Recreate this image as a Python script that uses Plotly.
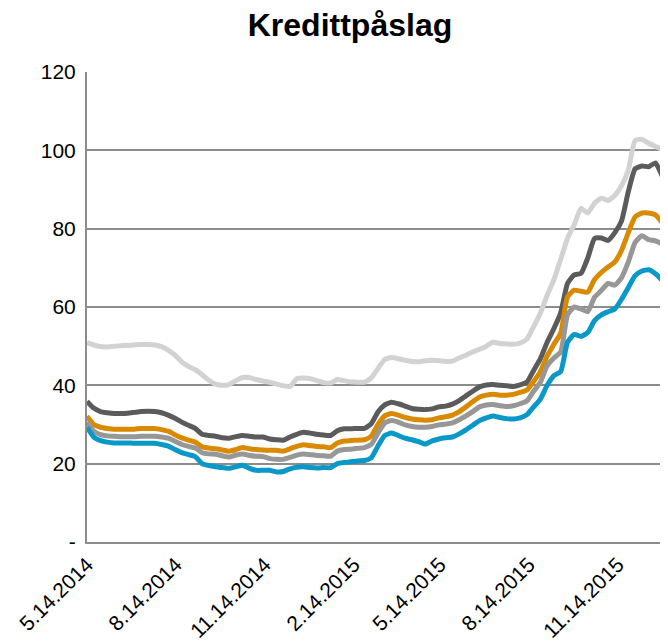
import pandas as pd
import plotly.graph_objects as go

start_date = "2014-05-14"
n_weeks = 87
dates = pd.date_range(start_date, periods=n_weeks, freq="7D")

light_gray = [50.9, 50.3, 49.9, 49.8, 50.0, 50.1, 50.2, 50.3, 50.4, 50.4,
              50.3, 49.9, 49.0, 47.7, 46.0, 44.8, 44.0, 42.7, 41.3, 40.3,
              40.0, 40.2, 41.2, 42.0, 42.0, 41.5, 41.1, 40.8, 40.3, 39.9,
              39.7, 41.7, 41.9, 41.7, 41.2, 40.7, 40.6, 41.5, 41.2, 40.9,
              40.8, 40.8, 41.9, 44.3, 46.6, 47.1, 46.8, 46.4, 46.1, 46.0,
              46.3, 46.4, 46.3, 46.1, 46.2, 47.0, 47.7, 48.5, 49.2, 50.0,
              51.0, 50.7, 50.6, 50.5, 50.8, 51.8, 55.0, 58.5, 63.0, 67.0,
              72.2, 77.5, 81.0, 85.2, 84.0, 86.5, 87.8, 87.2, 88.5, 91.0,
              95.0, 102.5, 102.8, 101.8, 101.0, 100.2, 98.8]

dark_gray = [35.9, 34.2, 33.3, 33.0, 32.8, 32.8, 32.9, 33.1, 33.3, 33.4,
             33.3, 33.0, 32.4, 31.6, 30.6, 29.8, 29.0, 27.5, 27.2, 27.0,
             26.6, 26.5, 26.9, 27.2, 27.0, 26.8, 26.8, 26.3, 26.1, 26.0,
             26.8, 27.5, 28.0, 27.8, 27.5, 27.3, 27.2, 28.4, 28.9, 28.9,
             29.0, 29.0, 30.2, 33.2, 35.0, 35.7, 35.3, 34.7, 34.1, 33.9,
             33.8, 34.0, 34.5, 34.7, 35.2, 36.1, 37.3, 38.5, 39.6, 40.1,
             40.2, 40.0, 39.9, 39.7, 40.1, 40.8, 43.8, 46.8, 51.0, 54.5,
             58.5, 66.0, 68.2, 68.6, 72.5, 77.5, 77.6, 77.0, 79.0, 82.0,
             89.5, 95.3, 96.0, 95.8, 96.8, 93.5, 90.0]

orange = [32.1, 30.0, 29.3, 29.0, 28.8, 28.8, 28.8, 28.8, 29.0, 29.0,
          29.0, 28.7, 28.3, 27.4, 26.6, 26.0, 25.5, 24.3, 24.0, 23.8,
          23.5, 23.2, 23.6, 24.1, 23.8, 23.6, 23.5, 23.4, 23.4, 23.2,
          23.8, 24.4, 24.8, 24.6, 24.4, 24.3, 24.1, 25.3, 25.8, 25.9,
          26.0, 26.1, 27.0, 30.0, 32.2, 32.8, 32.4, 31.8, 31.4, 31.2,
          31.1, 31.2, 31.7, 32.0, 32.4, 33.3, 34.5, 35.8, 37.0, 37.5,
          37.7, 37.5, 37.5, 37.7, 38.2, 38.8, 41.0, 43.5, 47.5, 50.5,
          53.3, 62.6, 64.3, 64.0, 63.8, 67.0, 68.8, 70.2, 71.5, 74.5,
          79.0, 83.0, 84.0, 84.0, 83.5, 81.5, 78.8]

mid_gray = [30.6, 28.3, 27.4, 27.1, 27.0, 26.9, 26.9, 26.9, 27.0, 27.0,
            27.0, 26.8, 26.5, 25.7, 24.9, 24.4, 24.0, 22.8, 22.5, 22.4,
            22.0, 21.7, 22.2, 22.5, 22.1, 21.9, 21.8, 21.3, 21.1, 21.1,
            21.6, 22.2, 22.5, 22.3, 22.1, 22.0, 21.9, 23.2, 23.6, 23.7,
            23.9, 24.1, 24.9, 27.8, 30.4, 31.0, 30.6, 29.9, 29.5, 29.3,
            29.3, 29.5, 29.9, 30.1, 30.4, 31.2, 32.2, 33.3, 34.5, 35.0,
            35.1, 34.8, 34.6, 34.8, 35.3, 36.0, 38.5, 40.8, 45.0, 47.0,
            48.5, 58.0, 60.0, 59.5, 58.8, 62.5, 64.2, 66.0, 65.6, 67.5,
            71.5, 76.5, 78.2, 77.2, 76.9, 76.0, 73.5]

blue = [29.3, 26.8, 25.9, 25.5, 25.3, 25.3, 25.3, 25.2, 25.2, 25.2,
        25.2, 24.9, 24.5, 23.6, 22.8, 22.3, 21.8, 20.0, 19.5, 19.2,
        19.0, 18.8, 19.2, 19.6, 18.8, 18.3, 18.3, 18.3, 17.9, 18.0,
        18.7, 19.1, 19.2, 19.0, 18.9, 19.0, 19.0, 20.0, 20.3, 20.5,
        20.7, 20.8, 21.5, 24.5, 27.2, 27.8, 27.2, 26.5, 26.1, 25.6,
        25.0, 25.8, 26.3, 26.6, 26.8, 27.6, 28.6, 29.8, 31.0, 31.7,
        32.2, 31.8, 31.5, 31.4, 31.7, 32.5, 34.5, 36.5, 40.0, 42.5,
        43.5, 51.0, 53.0, 52.5, 53.5, 56.5, 58.0, 58.8, 59.5, 62.0,
        65.0, 68.0, 69.2, 69.5, 68.5, 66.8, 64.8]

x_tick_dates = ["2014-05-14", "2014-08-14", "2014-11-14", "2015-02-14",
                "2015-05-14", "2015-08-14", "2015-11-14"]
x_tick_labels = ["5.14.2014", "8.14.2014", "11.14.2014", "2.14.2015",
                 "5.14.2015", "8.14.2015", "11.14.2015"]
y_tick_vals = [0, 20, 40, 60, 80, 100, 120]
y_tick_labels = ["-", "20", "40", "60", "80", "100", "120"]

series = [
    ("Serie 1", light_gray, "#d2d2d2"),
    ("Serie 2", dark_gray, "#5b5b5b"),
    ("Serie 3", orange, "#d98a00"),
    ("Serie 4", mid_gray, "#979797"),
    ("Serie 5", blue, "#0a98c8"),
]

fig = go.Figure()
for name, vals, col in series:
    fig.add_trace(go.Scatter(x=dates, y=vals, mode="lines", name=name,
                             line=dict(color=col, width=5, shape="spline",
                                       smoothing=0.5),
                             showlegend=False))

# the page body adds an 8 px offset; margins compensate for it
font_family = "Liberation Sans, Arial, sans-serif"
fig.update_layout(
    width=660, height=644,
    margin=dict(l=79, r=0, t=64, b=110, autoexpand=False),
    paper_bgcolor="white", plot_bgcolor="white",
    font=dict(family=font_family, size=20, color="black"),
    title=dict(text="<b>Kredittpåslag</b>", x=342 / 660, xref="container",
               xanchor="center", y=1 - 17 / 644, yref="container",
               yanchor="middle", font=dict(size=32, color="black")),
)
fig.update_xaxes(
    type="date", range=["2014-05-14", "2016-01-05"],
    tickvals=x_tick_dates, ticktext=x_tick_labels, tickangle=-45,
    showgrid=False, showline=True, linecolor="#8c8c8c", linewidth=2,
    ticks="", tickfont=dict(size=21), automargin=False,
)
fig.update_yaxes(
    range=[0, 120], tickvals=y_tick_vals, ticktext=y_tick_labels,
    showgrid=True, gridcolor="#8c8c8c", gridwidth=2,
    showline=True, linecolor="#8c8c8c", linewidth=2,
    ticks="", tickfont=dict(size=21), ticklabelstandoff=5,
    zeroline=False, automargin=False,
)
fig.write_html("out.html")
